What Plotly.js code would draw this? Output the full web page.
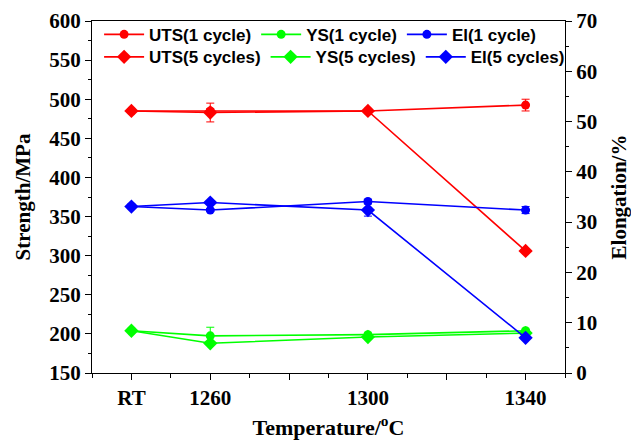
<!DOCTYPE html>
<html>
<head>
<meta charset="utf-8">
<script src="https://cdn.plot.ly/plotly-3.0.1.min.js"></script>
<style>html,body{margin:0;padding:0;background:#fff;}#chart{width:631px;height:440px;}</style>
</head>
<body>
<div id="chart"></div>
<script>
// Temperatures (RT placed at 1240 on the axis)
const temps = [1240, 1260, 1300, 1340];
const tickVals = [1240, 1260, 1280, 1300, 1320, 1340];
const tickText = ['RT', '1260', '', '1300', '', '1340'];

// Strength, MPa
const uts1 = [485, 485, 485, 492.5];
const uts1Err = [2, 3, 2, 7.5];
const uts5 = [485, 483, 485, 306];
const uts5Err = [2, 12, 2, 2];
const ys1 = [204, 197.5, 199, 204];
const ys1Err = [1, 11, 2, 2];
const ys5 = [204, 188, 196, 201];
const ys5Err = [1, 2, 2, 2];

// Elongation, %
const el1 = [33.1, 32.4, 34.1, 32.4];
const el1Err = [0.3, 0.3, 0.4, 0.7];
const el5 = [33.1, 33.9, 32.4, 7.0];
const el5Err = [0.3, 0.4, 1.2, 0.3];

const RED = '#ff0000', GREEN = '#00ff00', BLUE = '#0000ff';

function tr(name, y, err, color, symbol, yaxis, legend) {
  return {
    x: temps, y: y, name: name, type: 'scatter', mode: 'lines+markers',
    yaxis: yaxis, legend: legend,
    line: {color: color, width: 1.6},
    marker: {color: color, symbol: symbol, size: symbol === 'diamond' ? 11 : 9},
    error_y: {type: 'data', array: err, visible: true, color: color, thickness: 1, width: 4}
  };
}

const data = [
  tr('UTS(1 cycle)', uts1, uts1Err, RED, 'circle', 'y', 'legend'),
  tr('YS(1 cycle)', ys1, ys1Err, GREEN, 'circle', 'y', 'legend'),
  tr('El(1 cycle)', el1, el1Err, BLUE, 'circle', 'y2', 'legend'),
  tr('UTS(5 cycles)', uts5, uts5Err, RED, 'diamond', 'y', 'legend2'),
  tr('YS(5 cycles)', ys5, ys5Err, GREEN, 'diamond', 'y', 'legend2'),
  tr('El(5 cycles)', el5, el5Err, BLUE, 'diamond', 'y2', 'legend2')
];

const serif = 'Liberation Serif, Times New Roman, serif';
const tickFont = {family: serif, size: 21, color: '#000', weight: 'bold'};
const titleFont = {family: serif, size: 21, color: '#000', weight: 'bold'};
const xTitleFont = {family: serif, size: 22, color: '#000', weight: 'bold'};
const legFont = {family: 'Liberation Sans, Arial, sans-serif', size: 17, color: '#000', weight: 'bold'};

const layout = {
  width: 631, height: 440,
  margin: {l: 92, r: 66, t: 21, b: 67},
  paper_bgcolor: '#fff', plot_bgcolor: '#fff',
  showlegend: true,
  xaxis: {
    range: [1230, 1350], tickmode: 'array', tickvals: tickVals, ticktext: tickText,
    showgrid: false, zeroline: false, showline: true, linecolor: '#000', linewidth: 1,
    mirror: true, ticks: 'outside', ticklen: 6, tickcolor: '#000',
    minor: {dtick: 10, tick0: 1230, ticks: 'outside', ticklen: 4, tickcolor: '#000', showgrid: false},
    tickfont: tickFont,
    title: {text: 'Temperature/<sup>o</sup>C', font: xTitleFont, standoff: 12}
  },
  yaxis: {
    range: [150, 600], dtick: 50, tick0: 150,
    showgrid: false, zeroline: false, showline: true, linecolor: '#000', linewidth: 1,
    ticks: 'outside', ticklen: 6, tickcolor: '#000',
    minor: {dtick: 25, ticks: 'outside', ticklen: 3, tickcolor: '#000', showgrid: false},
    tickfont: tickFont,
    title: {text: 'Strength/MPa', font: titleFont, standoff: 12}
  },
  yaxis2: {
    range: [0, 70], dtick: 10, tick0: 0, overlaying: 'y', side: 'right',
    showgrid: false, zeroline: false, showline: true, linecolor: '#000', linewidth: 1,
    ticks: 'outside', ticklen: 6, tickcolor: '#000',
    minor: {dtick: 5, ticks: 'outside', ticklen: 3, tickcolor: '#000', showgrid: false},
    tickfont: tickFont,
    title: {text: 'Elongation/%', font: titleFont, standoff: 18}
  },
  legend: {
    orientation: 'h', x: 0.015, xanchor: 'left', y: 1.012, yanchor: 'top',
    bgcolor: 'rgba(0,0,0,0)', borderwidth: 0, font: legFont, itemwidth: 40
  },
  legend2: {
    orientation: 'h', x: 0.015, xanchor: 'left', y: 0.948, yanchor: 'top',
    bgcolor: 'rgba(0,0,0,0)', borderwidth: 0, font: legFont, itemwidth: 40
  }
};

Plotly.newPlot('chart', data, layout, {displayModeBar: false, staticPlot: true});
</script>
</body>
</html>
